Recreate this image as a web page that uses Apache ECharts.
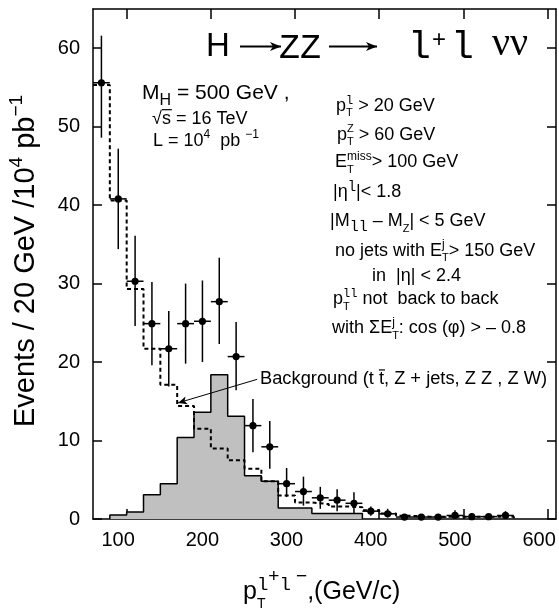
<!DOCTYPE html>
<html><head><meta charset="utf-8">
<script src="https://cdn.jsdelivr.net/npm/echarts@6/dist/echarts.min.js"></script>
<style>html,body{margin:0;padding:0;background:#fff}#c{width:559px;height:615px}</style>
</head><body><div id="c"></div>
<script>
// ---------------- data ----------------
const binWidth = 20;
const bgBins = [60,80,100,120,140,160,180,200,220,240,260,280,300,320,340,360,380,400,420,440,460,480,500,520,540];
const background = [55.3,40.6,29.3,21.7,17.1,14.4,11.5,9.0,7.5,6.4,4.8,3.0,2.1,1.9,1.6,1.5,1.1,0.7,0.4,0.3,0.3,0.3,0.3,0.3,0.3];
const sigBins = [80,100,120,140,160,180,200,220,240,260,280,300,320,340,360];
const signal = [0.5,0.9,3.1,4.5,10.4,13.6,18.4,13.1,5.5,4.8,1.4,1.4,0.7,0.7,0.7];
const dataX = [70,90,110,130,150,170,190,210,230,250,270,290,310,330,350,370,390,410,430,450,470,490,510,530,550];
const dataY = [55.6,40.8,30.3,24.9,21.7,24.9,25.2,27.7,20.7,11.9,9.2,4.5,3.5,2.7,2.4,2.0,1.0,0.66,0.25,0.25,0.25,0.45,0.3,0.3,0.45];
const errLo = [48.6,34.4,24.6,19.6,16.9,19.8,20.0,22.3,16.4,8.5,6.4,2.8,1.7,1.3,1.0,0.7,0.4,0.2,0.05,0.05,0.05,0.1,0.05,0.05,0.1];
const errHi = [61.6,47.2,36.1,30.2,26.5,30.0,30.4,33.3,25.1,15.3,12.5,6.5,5.4,4.1,3.8,3.4,1.6,1.3,0.6,0.5,0.5,1.1,0.7,0.6,1.0];
const xTicks = [100,200,300,400,500,600];
const yTicks = [0,10,20,30,40,50,60];
const arrowFrom = [255,17.8];
const arrowTo = [161,14.8];

// ---------------- helpers ----------------
function stepData(lows, vals, startZero) {
  const d = [];
  if (startZero) d.push([lows[0], 0]);
  lows.forEach((x, i) => d.push([x, vals[i]]));
  const end = lows[lows.length - 1] + binWidth;
  d.push([end, vals[vals.length - 1]]);
  d.push([end, 0]);
  return d;
}
const ctx = document.createElement('canvas').getContext('2d');
const FAM = {s:'Liberation Sans', m:'Liberation Mono', r:'Liberation Serif'};
const MID = {s:0.347, m:0.267, r:0.338};
function tw(t, fs, f){ ctx.font = fs + 'px "' + FAM[f] + '"'; return ctx.measureText(t).width; }
function seg(x, base, s, out){
  const f = s.f || 's', fs = s.fs, b = base + (s.dy || 0);
  out.push({type:'text', x:x, y:b - MID[f]*fs, z:100,
    style:{text:s.t, fontSize:fs, fontFamily:FAM[f], fill:'#000', align:'left', verticalAlign:'middle'}});
  const ww = tw(s.t, fs, f);
  if (s.over) out.push({type:'line', z:100, shape:{x1:x, y1:b-0.85*fs, x2:x+ww+1, y2:b-0.85*fs}, style:{stroke:'#000', lineWidth:1.2}});
  return ww;
}
function line(x0, base, segs, defFs){
  const out = []; let x = x0;
  segs.forEach(s => {
    if (s.stack) { let m = 0; s.stack.forEach(q => { m = Math.max(m, seg(x, base, Object.assign({fs:defFs}, q), out)); }); x += m; }
    else x += seg(x, base, Object.assign({fs:defFs}, s), out);
  });
  return out;
}
function arrowShape(x1, x2, y){
  return [
    {type:'line', z:100, shape:{x1:x1, y1:y, x2:x2, y2:y}, style:{stroke:'#000', lineWidth:2}},
    {type:'polygon', z:100, shape:{points:[[x2-11,y-4.5],[x2,y],[x2-11,y+4.5],[x2-8,y]]}, style:{fill:'#000'}}
  ];
}
const SUP = -8, SUB = 5;
const els = [].concat(
  line(206, 58, [{t:'H'}], 33),
  arrowShape(240, 281, 46.5),
  line(279, 58, [{t:'ZZ', f:'m'}], 35),
  arrowShape(329, 377, 46.5),
  line(408, 58, [{t:'l', f:'m'}], 38),
  line(432, 49, [{t:'+'}], 24),
  line(451, 58, [{t:'l', f:'m'}], 38),
  line(492, 58, [{t:'νν', f:'r'}], 40),
  // left block
  line(142, 100, [{t:'M'}, {t:'H', fs:16, dy:6}, {t:' = 500 GeV ,'}], 21),
  line(152, 125, [{t:'√'}, {t:'s', over:true}, {t:' = 16 TeV'}], 18),
  line(153, 147, [{t:'L = 10'}, {t:'4', fs:12, dy:SUP}, {t:'  pb '}, {t:'−1', fs:12, dy:SUP}], 18),
  // right block
  line(336, 112, [{t:'p'}, {stack:[{t:'l', f:'m', fs:12, dy:SUP}, {t:'T', fs:11, dy:SUB}]}, {t:' > 20 GeV'}], 18),
  line(337, 141, [{t:'p'}, {stack:[{t:'Z', fs:11, dy:SUP}, {t:'T', fs:11, dy:SUB}]}, {t:' > 60 GeV'}], 18),
  line(335, 168.5, [{t:'E'}, {stack:[{t:'miss', fs:12, dy:SUP}, {t:'T', fs:11, dy:SUB}]}, {t:'> 100 GeV'}], 18),
  line(333, 198.5, [{t:'|η'}, {t:'l', f:'m', fs:14, dy:-7}, {t:'|< 1.8'}], 18),
  line(330, 227.5, [{t:'|M'}, {t:'ll', f:'m', fs:15, dy:4}, {t:' – M'}, {t:'Z', fs:11, dy:SUB}, {t:'| < 5 GeV'}], 18),
  line(335, 257, [{t:'no jets with E'}, {stack:[{t:'j', fs:12, dy:SUP}, {t:'T', fs:11, dy:SUB}]}, {t:'> 150 GeV'}], 18),
  line(372, 282, [{t:'in  |η| < 2.4'}], 18),
  line(333, 305.5, [{t:'p'}, {stack:[{t:'ll', f:'m', fs:12, dy:SUP}, {t:'T', fs:11, dy:SUB}]}, {t:' not  back to back'}], 18),
  line(332, 334.5, [{t:'with '}, {t:'ΣE'}, {stack:[{t:'j', fs:12, dy:SUP}, {t:'T', fs:11, dy:SUB}]}, {t:': cos (φ) > – 0.8'}], 18),
  line(260, 385.5, [{t:'Background (t '}, {t:'t', over:true}, {t:', Z + jets, Z Z , Z W)'}], 18.3),
  // x axis title
  line(243, 601, [{t:'p'}, {stack:[{t:'l', f:'m', fs:19, dy:-11}, {t:'T', fs:14, dy:8}]}, {t:'+', fs:19, dy:-18}, {t:'l', f:'m', fs:19, dy:-11}, {t:' −', fs:19, dy:-18}, {t:',(GeV/c)'}], 25)
);
els.push({type:'group', x:36, y:427, rotation:Math.PI/2,
  children: line(0, 0, [{t:'Events / 20 GeV /10'}, {t:'4', fs:19, dy:-13}, {t:' pb'}, {t:'−1', fs:19, dy:-13}], 29)});

// ---------------- chart ----------------
const chart = echarts.init(document.getElementById('c'), null, {renderer:'canvas'});
const axLine = {show:true, onZero:false, lineStyle:{color:'#000', width:1.5}};
const lblFont = {fontSize:20, color:'#000', fontFamily:'Liberation Sans'};
chart.setOption({
  animation:false,
  backgroundColor:'#fff',
  grid:{left:93, right:3, top:9, bottom:96, containLabel:false},
  xAxis:[
    {type:'value', min:60, max:610, position:'bottom', axisLine:axLine,
     axisTick:{show:true, inside:true, length:10, customValues:xTicks, lineStyle:{color:'#000', width:1.5}},
     axisLabel:Object.assign({customValues:xTicks, margin:11, padding:[0,17,0,0]}, lblFont),
     splitLine:{show:false}},
    {type:'value', min:60, max:610, position:'top', axisLine:axLine,
     axisTick:{show:true, inside:true, length:10, customValues:xTicks, lineStyle:{color:'#000', width:1.5}},
     axisLabel:{show:false}, splitLine:{show:false}}
  ],
  yAxis:[
    {type:'value', min:0, max:65, position:'left', axisLine:axLine,
     axisTick:{show:true, inside:true, length:9, customValues:yTicks, lineStyle:{color:'#000', width:1.5}},
     axisLabel:Object.assign({customValues:yTicks, margin:13}, lblFont), splitLine:{show:false}},
    {type:'value', min:0, max:65, position:'right', axisLine:axLine,
     axisTick:{show:true, inside:true, length:9, customValues:yTicks, lineStyle:{color:'#000', width:1.5}},
     axisLabel:{show:false}, splitLine:{show:false}}
  ],
  series:[
    {type:'line', name:'signal', step:'end', xAxisIndex:0, yAxisIndex:0, data:stepData(sigBins, signal, true),
     showSymbol:false, symbol:'none', lineStyle:{color:'#000', width:1.5}, areaStyle:{color:'#c0c0c0', opacity:1}, z:2},
    {type:'line', name:'background', step:'end', xAxisIndex:0, yAxisIndex:0, data:stepData(bgBins, background, false),
     showSymbol:false, symbol:'none', lineStyle:{color:'#000', width:2, type:[4,3]}, z:3,
     markLine:{silent:true, symbol:['none','arrow'], symbolSize:[6,9], label:{show:false},
       lineStyle:{color:'#000', width:1, type:'solid'},
       data:[[{coord:arrowFrom}, {coord:arrowTo}]]}},
    {type:'custom', name:'data', xAxisIndex:0, yAxisIndex:0, z:10,
     data:dataX.map((x, i) => [x, dataY[i], errLo[i], errHi[i]]),
     encode:{x:0, y:1},
     renderItem:(params, api) => {
       const x = api.value(0), y = api.value(1), lo = api.value(2), hi = api.value(3);
       const c = api.coord([x, y]), l = api.coord([x - binWidth/2, y]), r = api.coord([x + binWidth/2, y]);
       const t = api.coord([x, hi]), b = api.coord([x, lo]);
       return {type:'group', children:[
         {type:'line', shape:{x1:l[0], y1:l[1], x2:r[0], y2:r[1]}, style:{stroke:'#000', lineWidth:1.5}},
         {type:'line', shape:{x1:t[0], y1:t[1], x2:b[0], y2:b[1]}, style:{stroke:'#000', lineWidth:1.5}},
         {type:'circle', shape:{cx:c[0], cy:c[1], r:3.6}, style:{fill:'#000'}}
       ]};
     }}
  ],
  graphic:[{type:'group', children:els}]
});
</script></body></html>
